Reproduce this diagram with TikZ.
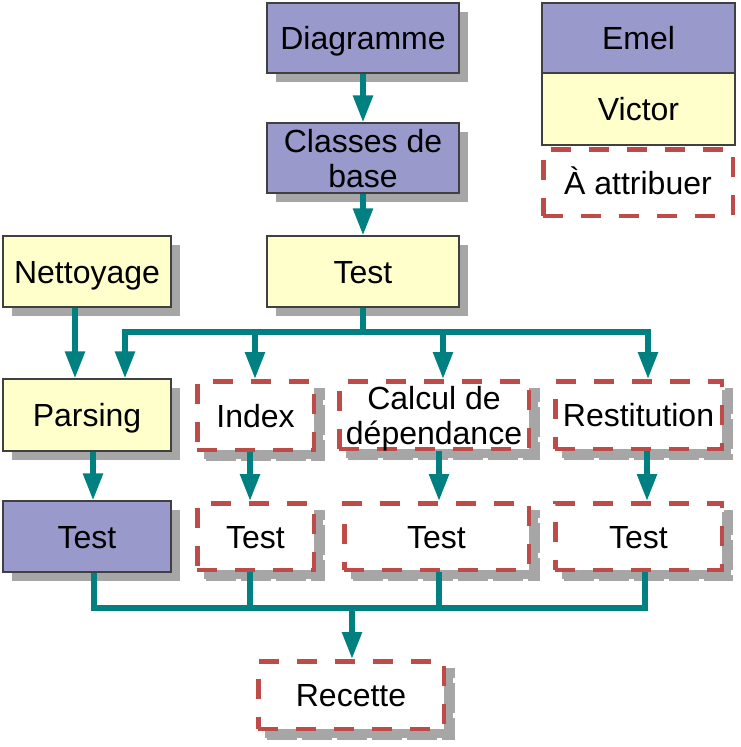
\documentclass[tikz,border=0pt]{standalone}
\usepackage{fontspec}
\setmainfont{Liberation Sans}
\usetikzlibrary{arrows.meta,shadows}
\definecolor{purp}{HTML}{9999CC}
\definecolor{yel}{HTML}{FFFFCC}
\definecolor{tealc}{HTML}{008080}
\definecolor{redd}{HTML}{BE4B48}
\definecolor{shad}{HTML}{A6A6A6}
\definecolor{bord}{HTML}{404040}
\begin{document}
\begin{tikzpicture}[x=1pt,y=-1pt,
  every node/.style={font=\fontsize{32}{35}\selectfont, inner sep=0pt, align=center, text height=23pt, text depth=0pt},
  twoline/.style={text height=58pt},
  solidshadow/.style={drop shadow={shadow xshift=9pt, shadow yshift=-9pt, opacity=1, fill=shad}},
  pbox/.style={draw=bord, line width=1.2pt, fill=purp, solidshadow},
  ybox/.style={draw=bord, line width=1.2pt, fill=yel, solidshadow},
  dashline/.style={line width=4.5pt, dash pattern=on 20pt off 18pt},
  dboxplain/.style={draw=redd, dashline, fill=white},
  dbox/.style={dboxplain, general shadow={shadow xshift=9pt, shadow yshift=-9pt, draw=shad, fill=shad, line width=4.5pt, dash pattern=on 30pt off 5pt}},
  legp/.style={draw=bord, line width=1.2pt, fill=purp},
  legy/.style={draw=bord, line width=1.2pt, fill=yel},
  conn/.style={draw=tealc, line width=5.5pt},
  arr/.style={conn, -{Triangle[width=19pt,length=27pt]}}
]
\useasboundingbox (0,0) rectangle (740,747);

% top chain
\node[pbox, minimum width=192pt, minimum height=70pt] (dia) at (363,38) {Diagramme};
\node[pbox, twoline, minimum width=192pt, minimum height=70pt] (cls) at (363,158) {Classes de\\base};
\node[ybox, minimum width=168pt, minimum height=71pt] (nett) at (87,271.5) {Nettoyage};
\node[ybox, minimum width=192pt, minimum height=71pt] (test0) at (363,271.5) {Test};

% legend
\node[legp, minimum width=193pt, minimum height=70pt] (emel) at (638.5,38) {Emel};
\node[legy, minimum width=193pt, minimum height=72pt] (victor) at (638.5,109) {Victor};
\node[dboxplain, minimum width=189.5pt, minimum height=66.5pt] (attr) at (638,182.5) {À attribuer};

% second row
\node[ybox, minimum width=168pt, minimum height=72pt] (pars) at (87,415) {Parsing};
\node[dbox, minimum width=116.5pt, minimum height=68.5pt] (index) at (255.5,415.5) {Index};
\node[dbox, twoline, minimum width=189.5pt, minimum height=67.5pt] (calc) at (434,415) {Calcul de\\dépendance};
\node[dbox, minimum width=166.5pt, minimum height=67.5pt] (rest) at (638.5,415) {Restitution};

% third row
\node[pbox, minimum width=168pt, minimum height=71pt] (t1) at (87,536.5) {Test};
\node[dbox, minimum width=116.5pt, minimum height=66.5pt] (t2) at (255.5,536.5) {Test};
\node[dbox, minimum width=184.5pt, minimum height=66.5pt] (t3) at (436.5,536.5) {Test};
\node[dbox, minimum width=166.5pt, minimum height=66.5pt] (t4) at (638.5,536.5) {Test};

% final
\node[dbox, minimum width=185.5pt, minimum height=67.5pt] (rec) at (351,695) {Recette};

% connectors top
\draw[arr] (dia) -- (cls);
\draw[arr] (cls) -- (test0);
\coordinate (bT) at (363,332);
\coordinate (b1) at (125,332);
\coordinate (b2) at (255,332);
\coordinate (b3) at (443,332);
\coordinate (b4) at (648,332);
\draw[conn] (test0.south) -- (bT);
\draw[arr] (bT) -| (b1 |- pars.north);
\draw[arr] (bT) -| (b4 |- rest.north);
\draw[arr] (b2) -- (b2 |- index.north);
\draw[arr] (b3) -- (b3 |- calc.north);
\draw[arr] ([xshift=-12pt]nett.south) -- ([xshift=-12pt]pars.north);

% connectors middle
\draw[arr] ([xshift=6pt]pars.south) -- ([xshift=6pt]t1.north);
\draw[arr] ([xshift=-5.5pt]index.south) -- ([xshift=-5.5pt]t2.north);
\draw[arr] ([xshift=5pt]calc.south) -- ([xshift=2.5pt]t3.north);
\draw[arr] ([xshift=8.5pt]rest.south) -- ([xshift=8.5pt]t4.north);

% connectors bottom
\coordinate (cR) at (352,608);
\draw[conn] ([xshift=7pt]t1.south) |- (cR) -| ([xshift=6.5pt]t4.south);
\draw[conn] ([xshift=-5.5pt]t2.south) -- ([xshift=-5.5pt]t2.south |- cR);
\draw[conn] ([xshift=2.5pt]t3.south) -- ([xshift=2.5pt]t3.south |- cR);
\draw[arr] (cR) -- (cR |- rec.north);
\end{tikzpicture}
\end{document}
